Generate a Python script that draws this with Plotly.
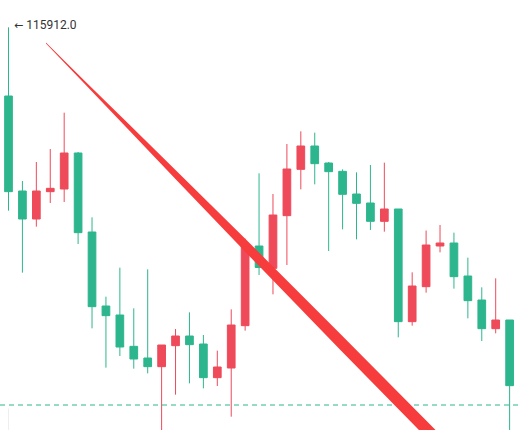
import plotly.graph_objects as go

# ---- data ----
idx = list(range(37))
opens = [115500, 114930, 114762, 114926, 114942, 115158, 114684, 114240, 114186, 113998,
         113928, 113876, 114002, 114060, 114012, 113810, 113868, 114122, 114600, 114466,
         114782, 115060, 115200, 115098, 115048, 114912, 114858, 114748, 114822, 114146,
         114356, 114600, 114618, 114420, 114276, 114104, 114156]
highs = [115912.0, 114990, 115104, 115182, 115400, 115164, 114772, 114296, 114470, 114226,
         114460, 113985, 114102, 114202, 114066, 113972, 114220, 114644, 115036, 114912,
         115212, 115288, 115280, 115104, 115060, 115042, 115086, 115100, 114822, 114442,
         114693, 114726, 114680, 114530, 114352, 114406, 114156]
lows = [114812, 114440, 114716, 114858, 114864, 114612, 114106, 113870, 113940, 113864,
        113836, 113493, 113708, 113776, 113746, 113760, 113576, 114092, 114426, 114310,
        114486, 114940, 114970, 114570, 114700, 114640, 114696, 114686, 114052, 114122,
        114320, 114562, 114344, 114166, 114030, 114076, 113436]
closes = [114926, 114762, 114930, 114946, 115158, 114680, 114236, 114182, 113994, 113922,
          113876, 114006, 114060, 114008, 113810, 113874, 114126, 114600, 114471, 114786,
          115062, 115200, 115094, 115046, 114910, 114856, 114748, 114822, 114146, 114360,
          114606, 114618, 114416, 114272, 114104, 114156, 113762]

high_label = "115912.0"
last_price_line = 113646

# drawn trendline (anchor points) and its tapering half-thickness profile
trend_start = (2.69, 115818)
trend_end = (31.0, 113418)
taper_x = [2.69, 5.50, 8.73, 11.96, 16.99, 23.81, 31.0]
taper_half = [3, 9, 18, 27, 39, 48, 51]

UP = "#ee4a5a"
DOWN = "#2db68e"

fig = go.Figure()
fig.add_trace(go.Candlestick(
    x=idx, open=opens, high=highs, low=lows, close=closes,
    increasing=dict(line=dict(color=UP, width=1), fillcolor=UP),
    decreasing=dict(line=dict(color=DOWN, width=1), fillcolor=DOWN),
    whiskerwidth=0, hoverinfo="skip", showlegend=False,
))

# tapered trendline polygon
x0, y0 = trend_start
x1, y1 = trend_end
slope = (y1 - y0) / (x1 - x0)
upper = [(x, y0 + slope * (x - x0) + h) for x, h in zip(taper_x, taper_half)]
lower = [(x, y0 + slope * (x - x0) - h) for x, h in zip(taper_x, taper_half)]
pts = upper + lower[::-1]
path = "M " + " L ".join(f"{x},{y}" for x, y in pts) + " Z"
fig.add_shape(type="path", path=path, xref="x", yref="y",
              fillcolor="#f63c3c", line=dict(width=0), layer="above")

# faint vertical guide and dashed price line
fig.add_shape(type="line", x0=0, x1=0, xref="x", y0=0, y1=0.05, yref="paper",
              line=dict(color="#eeeeee", width=1), layer="below")
fig.add_shape(type="line", x0=0, x1=1, xref="paper", y0=last_price_line, y1=last_price_line,
              yref="y", line=dict(color=DOWN, width=1, dash="5px,4px"), layer="below")

fig.add_annotation(x=0, y=highs[0], xref="x", yref="y",
                   text="<span style='font-family:DejaVu Sans;font-size:11px'>←</span> " + high_label,
                   showarrow=False, xanchor="left", yanchor="middle", xshift=3, yshift=2,
                   font=dict(family="Roboto, Arial, sans-serif", size=12, color="#333333"))

fig.update_layout(
    width=519, height=430,
    margin=dict(l=0, r=0, t=0, b=0),
    paper_bgcolor="white", plot_bgcolor="white",
    boxgap=0.21,
    xaxis=dict(range=[-0.611, 36.674], visible=False, rangeslider=dict(visible=False),
               showgrid=False, zeroline=False),
    yaxis=dict(range=[113496, 116076], visible=False, showgrid=False, zeroline=False),
    showlegend=False,
)

fig.write_html("out.html", config={"displayModeBar": False},
               post_script="document.body.style.margin='0';document.body.style.overflow='hidden';")
